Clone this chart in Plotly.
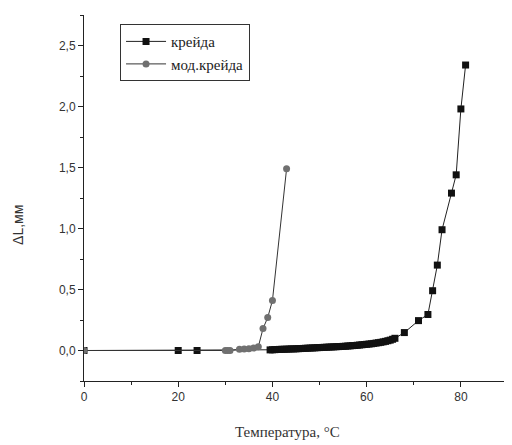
import plotly.graph_objects as go

# крейда (chalk)
chalk_x = [0, 20, 24,
           39.5, 40, 40.5, 41, 41.5, 42, 42.5, 43, 43.5, 44, 44.5, 45, 45.5, 46, 46.5, 47, 47.5,
           48, 48.5, 49, 49.5, 50, 50.5, 51, 51.5, 52, 52.5, 53, 53.5, 54, 54.5, 55, 55.5, 56,
           56.5, 57, 57.5, 58, 58.5, 59, 59.5, 60, 60.5, 61, 61.5, 62, 62.5, 63, 63.5, 64, 64.5,
           65, 65.5, 66,
           68, 71, 73, 74, 75, 76, 78, 79, 80, 81]
chalk_y = [0.0, 0.0, 0.0,
           0.005, 0.006, 0.007, 0.008, 0.009, 0.010, 0.010, 0.011, 0.012, 0.013, 0.013, 0.014, 0.015, 0.016, 0.017, 0.018, 0.019,
           0.020, 0.021, 0.022, 0.023, 0.024, 0.025, 0.026, 0.027, 0.028, 0.029, 0.030, 0.031, 0.032, 0.033, 0.034, 0.035, 0.037,
           0.038, 0.040, 0.041, 0.043, 0.045, 0.047, 0.049, 0.051, 0.053, 0.055, 0.058, 0.061, 0.064, 0.067, 0.071, 0.075, 0.080,
           0.085, 0.092, 0.100,
           0.147, 0.245, 0.295, 0.49, 0.70, 0.99, 1.29, 1.44, 1.98, 2.34]

# мод.крейда (modified chalk)
mod_x = [0, 30, 30.5, 31, 33, 34, 35, 36, 37, 38, 39, 40, 43]
mod_y = [0.0, 0.0, 0.0, 0.0, 0.01, 0.012, 0.015, 0.02, 0.03, 0.18, 0.27, 0.41, 1.49]

x_ticks = [0, 20, 40, 60, 80]
y_ticks = [0.0, 0.5, 1.0, 1.5, 2.0, 2.5]

x_title = "Температура, °C"
y_title = "ΔL,мм"

fig = go.Figure()
fig.add_trace(go.Scatter(
    x=chalk_x, y=chalk_y, mode="lines+markers", name="крейда",
    line=dict(color="#222222", width=1),
    marker=dict(symbol="square", size=7, color="#111111"),
))
fig.add_trace(go.Scatter(
    x=mod_x, y=mod_y, mode="lines+markers", name="мод.крейда",
    line=dict(color="#333333", width=1),
    marker=dict(symbol="circle", size=7, color="#707070"),
))

axis_common = dict(
    showgrid=False, zeroline=False, showline=True, linecolor="#222222", linewidth=1,
    ticks="outside", ticklen=5, tickcolor="#222222", automargin=False,
    tickfont=dict(family="Liberation Sans, Arial", size=12, color="#333333"),
)

fig.update_layout(
    width=512, height=445,
    margin=dict(l=76, r=12, t=7, b=72, autoexpand=False),
    paper_bgcolor="white", plot_bgcolor="white",
    separators=", ",
    showlegend=True,
    legend=dict(
        x=0.085, y=0.975, xanchor="left", yanchor="top",
        bgcolor="white", bordercolor="#333333", borderwidth=1,
        font=dict(family="Liberation Serif, Times New Roman", size=15, color="#222222"),
        tracegroupgap=0, itemwidth=40,
    ),
    xaxis=dict(
        **axis_common,
        range=[0, 90], tickvals=x_ticks,
        minor=dict(dtick=10, ticks="outside", ticklen=3, tickcolor="#222222"),
    ),
    yaxis=dict(
        **axis_common,
        range=[-0.25, 2.75], tickvals=y_ticks, tickformat=".1f",
        minor=dict(dtick=0.25, tick0=0, ticks="outside", ticklen=3, tickcolor="#222222"),
    ),
    annotations=[
        dict(text=x_title, xref="paper", yref="paper", x=0.479, y=-0.139,
             xanchor="center", yanchor="middle", showarrow=False,
             font=dict(family="Liberation Serif, Times New Roman", size=15, color="#333333")),
        dict(text=y_title, xref="paper", yref="paper", x=-0.156, y=0.426,
             xanchor="center", yanchor="middle", showarrow=False, textangle=-90,
             font=dict(family="Liberation Sans, Arial", size=14, color="#333333")),
    ],
)

fig.write_html("out.html")
